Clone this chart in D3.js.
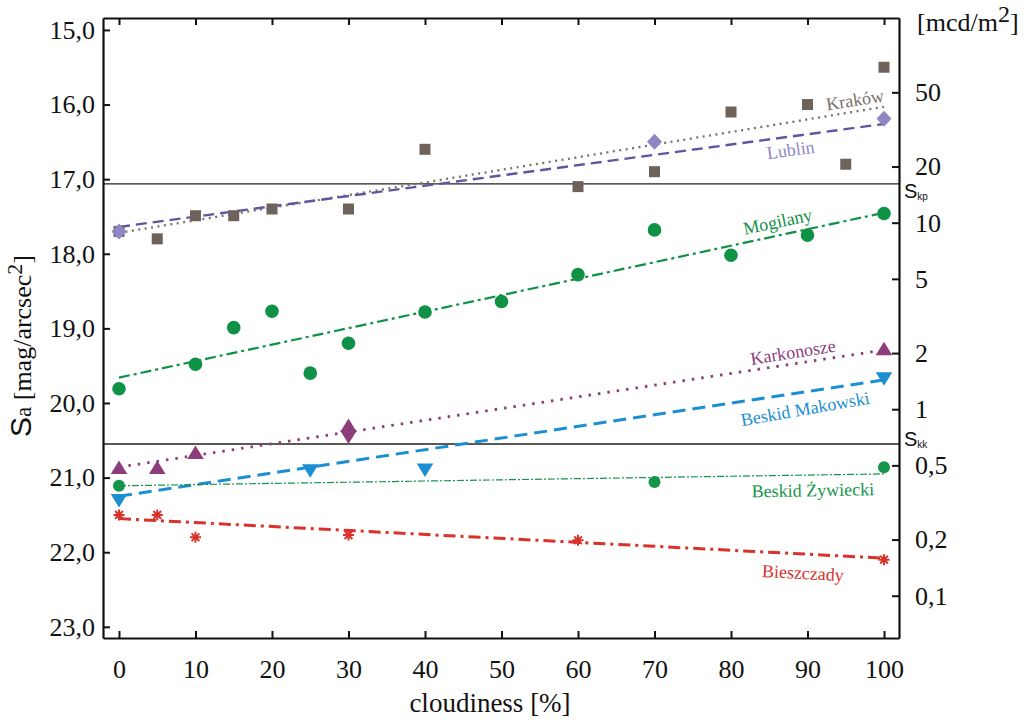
<!DOCTYPE html>
<html>
<head>
<meta charset="utf-8">
<script src="https://cdn.jsdelivr.net/npm/d3@7/dist/d3.min.js"></script>
<style>
  html, body { margin: 0; padding: 0; background: #fff; }
  svg { display: block; }
</style>
</head>
<body>
<svg id="chart" width="1024" height="720"></svg>
<script>
// ---------------- data ----------------
const xTicks = [0, 10, 20, 30, 40, 50, 60, 70, 80, 90, 100];
const yTicks = [15, 16, 17, 18, 19, 20, 21, 22, 23];
const rightTicks = [50, 20, 10, 5, 2, 1, 0.5, 0.2, 0.1];

const krakowX = [0, 5, 10, 15, 20, 30, 40, 60, 70, 80, 90, 95, 100];
const krakowY = [17.7, 17.8, 17.49, 17.49, 17.4, 17.4, 16.6, 17.1, 16.9, 16.1, 16.0, 16.8, 15.5];
const lublinX = [0, 70, 100];
const lublinY = [17.7, 16.5, 16.19];
const mogilanyX = [0, 10, 15, 20, 25, 30, 40, 50, 60, 70, 80, 90, 100];
const mogilanyY = [19.81, 19.48, 18.99, 18.77, 19.6, 19.2, 18.78, 18.64, 18.28, 17.68, 18.02, 17.75, 17.46];
const karkonoszeX = [0, 5, 10, 30, 100];
const karkonoszeY = [20.87, 20.87, 20.67, 20.31, 19.28];
const karkonoszeDownX = [30];
const karkonoszeDownY = [20.45];
const makowskiX = [0, 25, 40, 100];
const makowskiY = [21.3, 20.9, 20.89, 19.67];
const zywieckiX = [0, 70, 100];
const zywieckiY = [21.11, 21.06, 20.86];
const bieszczadyX = [0, 5, 10, 30, 60, 100];
const bieszczadyY = [21.5, 21.5, 21.8, 21.77, 21.84, 22.1];

// trend lines (values at 0 % and 100 %)
const trendX = [0, 100];
const krakowTrend = [17.72, 16.03];
const lublinTrend = [17.64, 16.26];
const mogilanyTrend = [19.66, 17.45];
const karkonoszeTrend = [20.86, 19.29];
const makowskiTrend = [21.25, 19.69];
const zywieckiTrend = [21.11, 20.95];
const bieszczadyTrend = [21.55, 22.08];

// reference levels
const sKp = 17.064;
const sKk = 20.55;

// ---------------- layout ----------------
const SERIF = '"Liberation Serif", "Tinos", "Times New Roman", Times';
const SANS = '"Liberation Sans", Arimo, Arial';
const svg = d3.select("#chart");
const L = 103, R = 899, T = 18, B = 638;

const x = d3.scaleLinear().domain([-2.09, 101.96]).range([L, R]);
const y = d3.scaleLinear().domain([14.84, 23.15]).range([T, B]);
const lum = m => 1.08e8 * Math.pow(10, -0.4 * m); // mcd/m^2
const yR = d3.scaleLog().domain([lum(14.84), lum(23.15)]).range([T, B]);

const comma = s => String(s).replace(".", ",");

// reference lines
[sKp, sKk].forEach(v => {
  svg.append("line")
    .attr("x1", L).attr("x2", R)
    .attr("y1", y(v)).attr("y2", y(v))
    .attr("stroke", "#222").attr("stroke-width", 1.3);
});

// ---------------- trend lines ----------------
const line = d3.line().x(d => x(d[0])).y(d => y(d[1]));
function trend(vals, color, width, dash) {
  svg.append("path")
    .attr("d", line(trendX.map((xx, i) => [xx, vals[i]])))
    .attr("fill", "none")
    .attr("stroke", color)
    .attr("stroke-width", width)
    .attr("stroke-dasharray", dash)
    .attr("stroke-linecap", "butt");
}
const cKrak = "#6f625b", cKrakLine = "#7b7069";
const cLub = "#8e87c3", cLubLine = "#5f56a0";
const cMog = "#0f9146";
const cKar = "#8e3d7c";
const cMak = "#1b8fd2";
const cZyw = "#13954a";
const cBie = "#d8322b";

trend(krakowTrend, cKrakLine, 2.3, "2,4.5");
trend(lublinTrend, cLubLine, 2.4, "11,6");
trend(mogilanyTrend, cMog, 2.2, "11,4,3,4");
trend(karkonoszeTrend, cKar, 2.8, "2.5,7");
trend(makowskiTrend, cMak, 3, "13,7");
trend(zywieckiTrend, cZyw, 1.2, "7,2,2,2");
trend(bieszczadyTrend, cBie, 3, "12,5,3,5");

// ---------------- markers ----------------
function pts(xs, ys) { return xs.map((xx, i) => [xx, ys[i]]); }

// squares
svg.append("g").selectAll("rect").data(pts(krakowX, krakowY)).join("rect")
  .attr("x", d => x(d[0]) - 5.5).attr("y", d => y(d[1]) - 5.5)
  .attr("width", 11).attr("height", 11)
  .attr("fill", cKrak);

// diamonds
svg.append("g").selectAll("path").data(pts(lublinX, lublinY)).join("path")
  .attr("transform", d => `translate(${x(d[0])},${y(d[1])})`)
  .attr("d", "M0,-8L7.5,0L0,8L-7.5,0Z")
  .attr("fill", cLub);

// circles
svg.append("g").selectAll("circle").data(pts(mogilanyX, mogilanyY)).join("circle")
  .attr("cx", d => x(d[0])).attr("cy", d => y(d[1])).attr("r", 6.8)
  .attr("fill", cMog);
svg.append("g").selectAll("circle").data(pts(zywieckiX, zywieckiY)).join("circle")
  .attr("cx", d => x(d[0])).attr("cy", d => y(d[1])).attr("r", 6)
  .attr("fill", cZyw);

// triangles
const triUp = "M0,-7.5L8.3,6L-8.3,6Z";
const triDown = "M0,7.5L8.3,-6L-8.3,-6Z";
svg.append("g").selectAll("path").data(pts(karkonoszeX, karkonoszeY)).join("path")
  .attr("transform", d => `translate(${x(d[0])},${y(d[1])})`)
  .attr("d", triUp).attr("fill", cKar);
svg.append("g").selectAll("path").data(pts(karkonoszeDownX, karkonoszeDownY)).join("path")
  .attr("transform", d => `translate(${x(d[0])},${y(d[1])})`)
  .attr("d", triDown).attr("fill", cKar);
svg.append("g").selectAll("path").data(pts(makowskiX, makowskiY)).join("path")
  .attr("transform", d => `translate(${x(d[0])},${y(d[1])})`)
  .attr("d", triDown).attr("fill", cMak);

// asterisks
const astR = 5.5;
const astPath = [0, 45, 90, 135].map(a => {
  const r = a * Math.PI / 180, dx = Math.cos(r) * astR, dy = Math.sin(r) * astR;
  return `M${-dx},${-dy}L${dx},${dy}`;
}).join("");
svg.append("g").selectAll("path").data(pts(bieszczadyX, bieszczadyY)).join("path")
  .attr("transform", d => `translate(${x(d[0])},${y(d[1])})`)
  .attr("d", astPath).attr("stroke", cBie).attr("stroke-width", 2).attr("fill", "none");

// ---------------- series labels ----------------
const labels = [
  { t: "Kraków", x: 96.2, y: 15.94, a: -9, c: "#7b7069" },
  { t: "Lublin", x: 87.8, y: 16.61, a: -8, c: cLub },
  { t: "Mogilany", x: 86.1, y: 17.57, a: -12, c: cMog },
  { t: "Karkonosze", x: 88.1, y: 19.32, a: -9, c: cKar },
  { t: "Beskid Makowski", x: 89.7, y: 20.08, a: -10, c: cMak },
  { t: "Beskid Żywiecki", x: 90.7, y: 21.17, a: -1, c: cZyw },
  { t: "Bieszczady", x: 89.4, y: 22.28, a: 3, c: cBie }
];
svg.append("g").selectAll("text").data(labels).join("text")
  .attr("transform", d => `translate(${x(d.x)},${y(d.y)}) rotate(${d.a})`)
  .attr("text-anchor", "middle").attr("dominant-baseline", "central")
  .style("font-family", SERIF).style("font-size", "18px").attr("fill", d => d.c)
  .text(d => d.t);

// ---------------- axes ----------------
function styleAxis(g) {
  g.selectAll(".domain").attr("stroke", "#111").attr("stroke-width", 2.2);
  g.selectAll(".tick line").attr("stroke", "#111").attr("stroke-width", 2);
  g.selectAll("text").style("font-family", SERIF).style("font-size", "26px").attr("fill", "#111");
}
svg.append("g").attr("transform", `translate(${L},0)`)
  .call(d3.axisLeft(y).tickValues(yTicks).tickSize(-7).tickSizeOuter(0).tickPadding(8)
    .tickFormat(d => d3.format(".1f")(d).replace(".", ",")))
  .call(styleAxis);
svg.append("g").attr("transform", `translate(${R},0)`)
  .call(d3.axisRight(yR).tickValues(rightTicks).tickSize(-7).tickSizeOuter(0).tickPadding(16)
    .tickFormat(d => comma(d)))
  .call(styleAxis);
svg.append("g").attr("transform", `translate(0,${B})`)
  .call(d3.axisBottom(x).tickValues(xTicks).tickSize(-7).tickSizeOuter(0).tickPadding(22)
    .tickFormat(d => d))
  .call(styleAxis);
svg.append("g").attr("transform", `translate(0,${T})`)
  .call(d3.axisTop(x).tickValues(xTicks).tickSize(-7).tickSizeOuter(0).tickFormat(""))
  .call(styleAxis);

// S_kp / S_kk labels
function sLabel(v, sub, off) {
  const t = svg.append("text")
    .attr("x", R + 5).attr("y", y(v) + off)
    .style("font-family", SANS).style("font-size", "20px").attr("fill", "#111");
  t.append("tspan").text("S");
  t.append("tspan").style("font-size", "10px").attr("dy", 2).text(sub);
}
sLabel(sKp, "kp", 14);
sLabel(sKk, "kk", 2);

// axis titles
const ylab = svg.append("text")
  .attr("transform", `translate(31,${(T + B) / 2 + 18}) rotate(-90)`)
  .attr("text-anchor", "middle")
  .style("font-family", SERIF).style("font-size", "26px").attr("fill", "#111");
ylab.append("tspan").style("font-family", SANS).style("font-size", "30px").text("S");
ylab.append("tspan").style("font-size", "23px").text("a");
ylab.append("tspan").text(" [mag/arcsec");
ylab.append("tspan").style("font-size", "22px").attr("dy", -9).text("2");
ylab.append("tspan").attr("dy", 9).text("]");

const rlab = svg.append("text")
  .attr("x", 917).attr("y", 31)
  .style("font-family", SERIF).style("font-size", "26px").attr("fill", "#111");
rlab.append("tspan").text("[mcd/m");
rlab.append("tspan").style("font-size", "24px").attr("dy", -9).text("2");
rlab.append("tspan").attr("dy", 9).text("]");

svg.append("text")
  .attr("x", (L + R) / 2 - 11).attr("y", 712)
  .attr("text-anchor", "middle")
  .style("font-family", SERIF).style("font-size", "27px").attr("fill", "#111")
  .text("cloudiness [%]");
</script>
</body>
</html>
